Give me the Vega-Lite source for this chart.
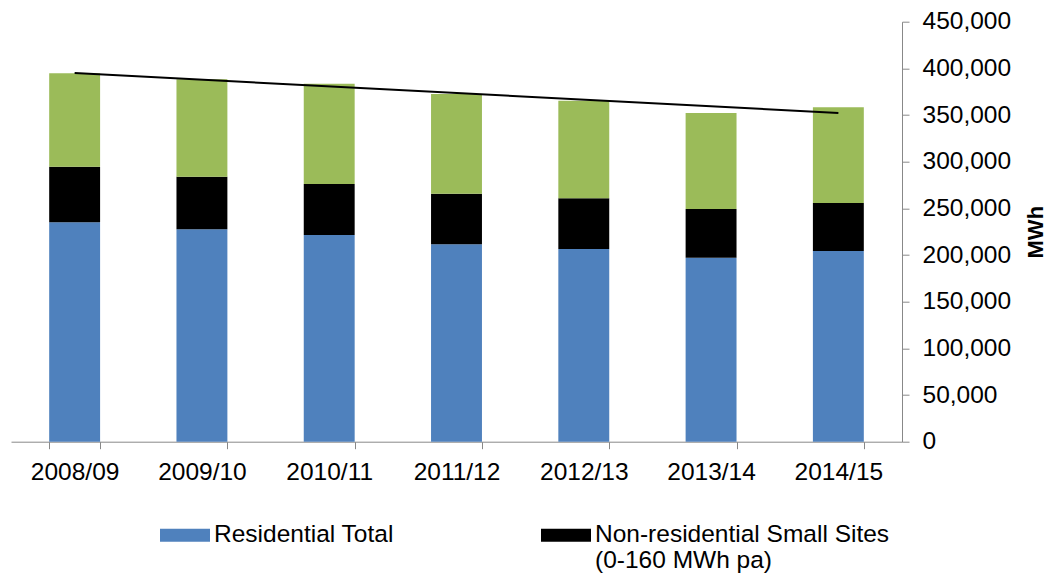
{
  "$schema": "https://vega.github.io/schema/vega-lite/v6.json",
  "width": 891,
  "height": 420,
  "autosize": "none",
  "padding": {"left": 11, "top": 21.7, "right": 148, "bottom": 134.3},
  "background": "white",
  "config": {
    "font": "Liberation Sans",
    "view": {"stroke": null},
    "axis": {"grid": false}
  },
  "datasets": {
    "bars": [
      {"year": "2008/09", "series": "Residential Total", "ord": 1, "mwh": 235100},
      {"year": "2008/09", "series": "Non-residential Small Sites (0-160 MWh pa)", "ord": 2, "mwh": 59500},
      {"year": "2008/09", "series": "Other non-residential", "ord": 3, "mwh": 100100},
      {"year": "2009/10", "series": "Residential Total", "ord": 1, "mwh": 227600},
      {"year": "2009/10", "series": "Non-residential Small Sites (0-160 MWh pa)", "ord": 2, "mwh": 56300},
      {"year": "2009/10", "series": "Other non-residential", "ord": 3, "mwh": 104400},
      {"year": "2010/11", "series": "Residential Total", "ord": 1, "mwh": 221500},
      {"year": "2010/11", "series": "Non-residential Small Sites (0-160 MWh pa)", "ord": 2, "mwh": 54600},
      {"year": "2010/11", "series": "Other non-residential", "ord": 3, "mwh": 107500},
      {"year": "2011/12", "series": "Residential Total", "ord": 1, "mwh": 211500},
      {"year": "2011/12", "series": "Non-residential Small Sites (0-160 MWh pa)", "ord": 2, "mwh": 54200},
      {"year": "2011/12", "series": "Other non-residential", "ord": 3, "mwh": 106800},
      {"year": "2012/13", "series": "Residential Total", "ord": 1, "mwh": 206500},
      {"year": "2012/13", "series": "Non-residential Small Sites (0-160 MWh pa)", "ord": 2, "mwh": 54300},
      {"year": "2012/13", "series": "Other non-residential", "ord": 3, "mwh": 104600},
      {"year": "2013/14", "series": "Residential Total", "ord": 1, "mwh": 197100},
      {"year": "2013/14", "series": "Non-residential Small Sites (0-160 MWh pa)", "ord": 2, "mwh": 52200},
      {"year": "2013/14", "series": "Other non-residential", "ord": 3, "mwh": 102900},
      {"year": "2014/15", "series": "Residential Total", "ord": 1, "mwh": 204300},
      {"year": "2014/15", "series": "Non-residential Small Sites (0-160 MWh pa)", "ord": 2, "mwh": 51400},
      {"year": "2014/15", "series": "Other non-residential", "ord": 3, "mwh": 102600}
    ],
    "trend": [
      {"year": "2008/09", "mwh": 395000},
      {"year": "2014/15", "mwh": 352200}
    ]
  },
  "layer": [
    {
      "data": {"name": "bars"},
      "mark": {"type": "bar"},
      "encoding": {
        "x": {
          "field": "year",
          "type": "ordinal",
          "scale": {
            "domain": ["2008/09", "2009/10", "2010/11", "2011/12", "2012/13", "2013/14", "2014/15"],
            "paddingInner": 0.6,
            "paddingOuter": 0.3
          },
          "axis": {
            "title": null,
            "labelAngle": 0,
            "labelFontSize": 24.5,
            "labelColor": "black",
            "labelPadding": 12,
            "tickSize": 7,
            "tickBand": "extent",
            "tickColor": "#888888",
            "domainColor": "#888888"
          }
        },
        "y": {
          "field": "mwh",
          "type": "quantitative",
          "stack": "zero",
          "scale": {"domain": [0, 450000], "nice": false},
          "axis": {
            "orient": "right",
            "values": [0, 50000, 100000, 150000, 200000, 250000, 300000, 350000, 400000, 450000],
            "format": ",d",
            "labelFontSize": 24.5,
            "labelColor": "black",
            "labelPadding": 13,
            "labelFlush": false,
            "labelOverlap": false,
            "tickSize": 7,
            "tickColor": "#888888",
            "domainColor": "#888888",
            "title": "MWh",
            "titleFontSize": 22,
            "titleFontWeight": "bold",
            "titleColor": "black",
            "titleAngle": 270,
            "titleBaseline": "top",
            "titlePadding": 15
          }
        },
        "color": {
          "field": "series",
          "type": "nominal",
          "scale": {
            "domain": ["Residential Total", "Non-residential Small Sites (0-160 MWh pa)", "Other non-residential"],
            "range": ["#4F81BD", "#000000", "#9BBB59"]
          },
          "legend": {
            "orient": "none",
            "legendX": 149,
            "legendY": 476,
            "direction": "horizontal",
            "values": ["Residential Total", "Non-residential Small Sites (0-160 MWh pa)"],
            "title": null,
            "symbolType": "M-1,0.24H1V0.76H-1Z",
            "symbolSize": 2500,
            "symbolStrokeWidth": 0,
            "symbolOpacity": 1,
            "labelFontSize": 24.5,
            "labelColor": "black",
            "labelBaseline": "top",
            "labelOffset": 4,
            "labelLimit": 600,
            "columnPadding": 147,
            "padding": 0,
            "labelExpr": "datum.label == 'Non-residential Small Sites (0-160 MWh pa)' ? ['Non-residential Small Sites', '(0-160 MWh pa)'] : [datum.label, ' ']"
          }
        },
        "order": {"field": "ord", "type": "quantitative"}
      }
    },
    {
      "data": {"name": "trend"},
      "mark": {"type": "line", "color": "black", "strokeWidth": 2},
      "encoding": {
        "x": {"field": "year", "type": "ordinal"},
        "y": {"field": "mwh", "type": "quantitative"}
      }
    }
  ]
}
